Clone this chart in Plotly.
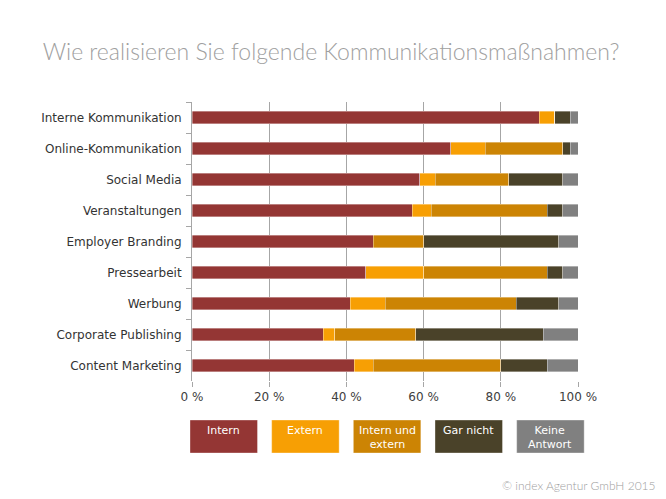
import plotly.graph_objects as go

categories = ["Interne Kommunikation", "Online-Kommunikation", "Social Media",
              "Veranstaltungen", "Employer Branding", "Pressearbeit", "Werbung",
              "Corporate Publishing", "Content Marketing"]

intern = [90, 67, 59, 57, 47, 45, 41, 34, 42]
extern = [4, 9, 4, 5, 0, 15, 9, 3, 5]
intern_und_extern = [0, 20, 19, 30, 13, 32, 34, 21, 33]
gar_nicht = [4, 2, 14, 4, 35, 4, 11, 33, 12]
keine_antwort = [2, 2, 4, 4, 5, 4, 5, 9, 8]

series_names = ["Intern", "Extern", "Intern und<br>extern", "Gar nicht", "Keine<br>Antwort"]
series_values = [intern, extern, intern_und_extern, gar_nicht, keine_antwort]
colors = ["#943634", "#F79F04", "#CC8404", "#4A4229", "#808080"]

tick_vals = [0, 20, 40, 60, 80, 100]
tick_text = ["0 %", "20 %", "40 %", "60 %", "80 %", "100 %"]

OFF = 8  # page body margin
W, H = 666 - OFF, 499 - OFF
L, R, T, B = 192 - OFF, 578 - OFF, 102 - OFF, 381 - OFF

def px(x):
    return (x - OFF - L) / (R - L)

def py(y):
    return (B - (y - OFF)) / (B - T)

fig = go.Figure()
for name, vals, col in zip(series_names, series_values, colors):
    fig.add_trace(go.Bar(
        y=categories, x=vals, orientation="h", name=name.replace("<br>", " "),
        marker=dict(color=col, line=dict(color="rgba(255,255,255,0.45)", width=0.8)),
        showlegend=False,
    ))

# custom legend boxes
box_x0 = 190
box_w = 67.5
box_step = 81.67
for i, (name, col) in enumerate(zip(series_names, colors)):
    x0 = box_x0 + i * box_step
    fig.add_shape(type="rect", xref="paper", yref="paper",
                  x0=px(x0), x1=px(x0 + box_w), y0=py(420), y1=py(453),
                  fillcolor=col, line=dict(color="rgba(255,255,255,0.35)", width=1))
    fig.add_annotation(xref="paper", yref="paper", x=px(x0 + box_w / 2), y=py(422),
                       xanchor="center", yanchor="top", text=name, showarrow=False,
                       font=dict(family="DejaVu Sans", size=11, color="white"),
                       align="center")

fig.add_annotation(xref="paper", yref="paper", x=px(658), y=py(485),
                   xanchor="right", yanchor="middle", text="© index Agentur GmbH 2015",
                   showarrow=False, font=dict(family="Lato", size=12, color="#a0a0a0", weight=300))

fig.update_layout(
    width=W, height=H,
    margin=dict(l=L, r=W - R, t=T, b=H - B, pad=0),
    barmode="stack", bargap=0.6,
    paper_bgcolor="white", plot_bgcolor="white",
    title=dict(text="Wie realisieren Sie folgende Kommunikationsmaßnahmen?",
               x=(331 - OFF) / W, xanchor="center", y=1 - (52 - OFF) / H, yanchor="middle",
               font=dict(family="Lato", size=23, color="#a0a0a0", weight=300)),
    xaxis=dict(range=[0, 100], tickvals=tick_vals, ticktext=tick_text,
               showgrid=True, gridcolor="#A6A6A6", gridwidth=1,
               showline=False, zeroline=False,
               ticks="outside", ticklen=5, tickcolor="#A6A6A6",
               tickfont=dict(family="DejaVu Sans", size=12, color="#404040")),
    yaxis=dict(autorange="reversed", showline=True, linecolor="#A6A6A6", linewidth=1,
               ticks="outside", ticklen=5, tickcolor="#A6A6A6", tickson="boundaries",
               showgrid=False, ticklabelstandoff=7,
               tickfont=dict(family="DejaVu Sans", size=12, color="#333333")),
)

fig.write_html("out.html")
